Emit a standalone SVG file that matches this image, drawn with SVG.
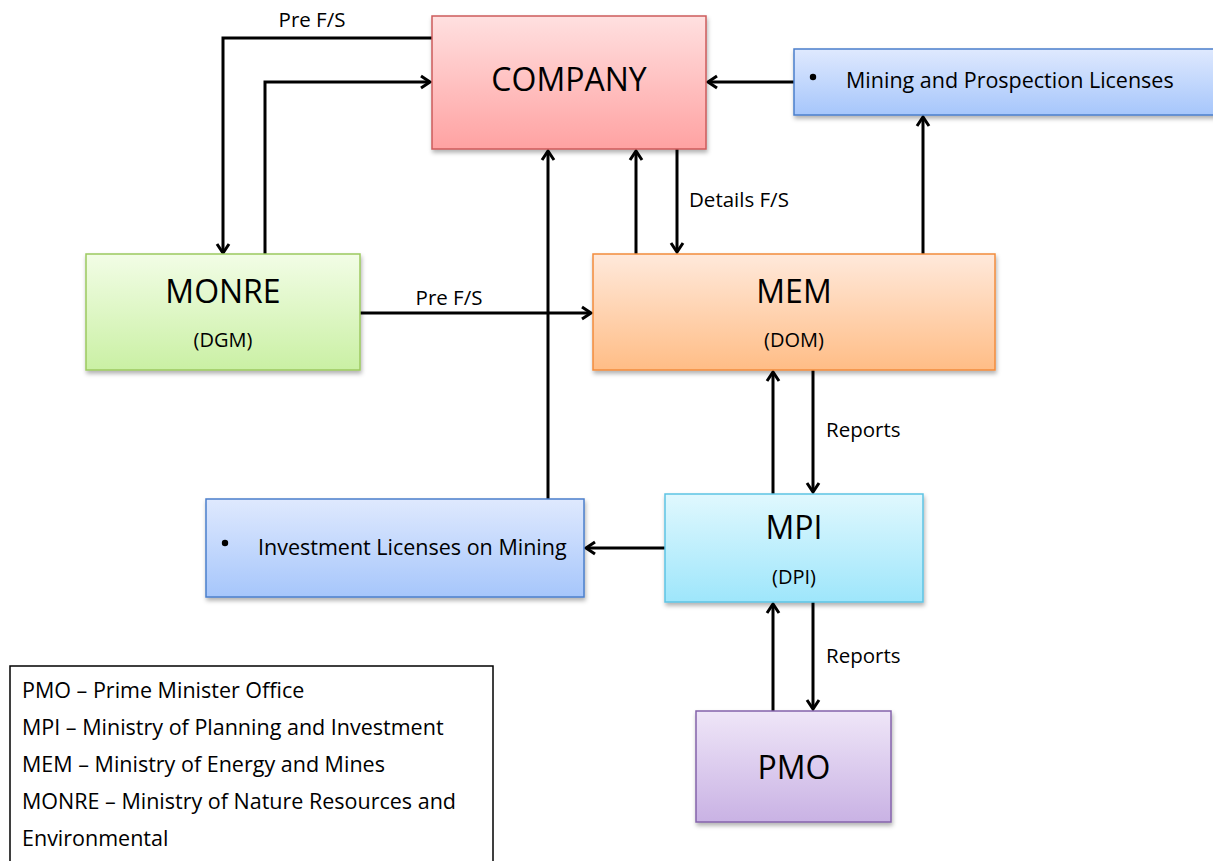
<svg xmlns="http://www.w3.org/2000/svg" width="1213" height="861" viewBox="0 0 1213 861">
<style>
.t{font-family:"Open Sans","Liberation Sans",sans-serif;fill:#000}
.big{font-size:32px}
.sub{font-size:20px}
.lbl{font-size:20.5px}
.leg{font-size:21.5px}
.c{stroke:#000;stroke-width:3;fill:none;marker-end:url(#ah)}
</style>
<defs>
<marker id="ah" markerUnits="userSpaceOnUse" markerWidth="16" markerHeight="16" refX="13" refY="8" orient="auto">
<path d="M4,2 L13,8 L4,14" fill="none" stroke="#000" stroke-width="3"/>
</marker>
<filter id="sh" x="-5%" y="-5%" width="115%" height="120%">
<feDropShadow dx="1" dy="3" stdDeviation="2" flood-color="#000" flood-opacity="0.3"/>
</filter>
<linearGradient id="gRed" x1="0" y1="0" x2="0" y2="1"><stop offset="0" stop-color="#ffe0e0"/><stop offset="1" stop-color="#ffa2a2"/></linearGradient>
<linearGradient id="gBlue" x1="0" y1="0" x2="0" y2="1"><stop offset="0" stop-color="#dfe9fe"/><stop offset="1" stop-color="#a6c6fb"/></linearGradient>
<linearGradient id="gGreen" x1="0" y1="0" x2="0" y2="1"><stop offset="0" stop-color="#f2fde6"/><stop offset="1" stop-color="#caf0a4"/></linearGradient>
<linearGradient id="gOrange" x1="0" y1="0" x2="0" y2="1"><stop offset="0" stop-color="#ffe9db"/><stop offset="1" stop-color="#ffbd86"/></linearGradient>
<linearGradient id="gCyan" x1="0" y1="0" x2="0" y2="1"><stop offset="0" stop-color="#e0f8fe"/><stop offset="1" stop-color="#9ee6fb"/></linearGradient>
<linearGradient id="gPurple" x1="0" y1="0" x2="0" y2="1"><stop offset="0" stop-color="#efe6f8"/><stop offset="1" stop-color="#c9b2e4"/></linearGradient>
</defs>
<rect width="1213" height="861" fill="#fff"/>

<g id="connectors">
<polyline class="c" points="432,38 223,38 223,253"/>
<polyline class="c" points="265,254 265,82 430,82"/>
<line class="c" x1="794" y1="82" x2="708" y2="82"/>
<line class="c" x1="923" y1="254" x2="923" y2="117"/>
<line class="c" x1="636" y1="254" x2="636" y2="151"/>
<line class="c" x1="677" y1="149" x2="677" y2="252"/>
<line class="c" x1="548" y1="499" x2="548" y2="151"/>
<line class="c" x1="360" y1="313" x2="591" y2="313"/>
<line class="c" x1="773" y1="494" x2="773" y2="372"/>
<line class="c" x1="813" y1="370" x2="813" y2="492"/>
<line class="c" x1="665" y1="548" x2="586" y2="548"/>
<line class="c" x1="773" y1="711" x2="773" y2="604"/>
<line class="c" x1="813" y1="602" x2="813" y2="709"/>
<text class="t lbl" x="312" y="27" text-anchor="middle">Pre F/S</text>
<text class="t lbl" x="689" y="207">Details F/S</text>
<text class="t lbl" x="449" y="305" text-anchor="middle">Pre F/S</text>
<text class="t lbl" x="826" y="437">Reports</text>
<text class="t lbl" x="826" y="663">Reports</text>
</g>

<g id="company">
<rect x="432" y="16" width="274" height="133" fill="url(#gRed)" stroke="#cd5b5b" stroke-width="1.5" filter="url(#sh)"/>
<text class="t big" x="569" y="91" text-anchor="middle">COMPANY</text>
</g>

<g id="mining-licenses">
<rect x="794" y="49" width="425" height="66" fill="url(#gBlue)" stroke="#4b7fcb" stroke-width="1.5" filter="url(#sh)"/>
<circle cx="813" cy="77" r="3.2" fill="#000"/>
<text class="t leg" x="846" y="88">Mining and Prospection Licenses</text>
</g>

<g id="monre">
<rect x="86" y="254" width="274" height="116" fill="url(#gGreen)" stroke="#9cc95f" stroke-width="1.5" filter="url(#sh)"/>
<text class="t big" x="223" y="303" text-anchor="middle">MONRE</text>
<text class="t sub" x="223" y="347" text-anchor="middle">(DGM)</text>
</g>

<g id="mem">
<rect x="593" y="254" width="402" height="116" fill="url(#gOrange)" stroke="#f28c3c" stroke-width="1.5" filter="url(#sh)"/>
<text class="t big" x="794" y="303" text-anchor="middle">MEM</text>
<text class="t sub" x="794" y="347" text-anchor="middle">(DOM)</text>
</g>

<g id="investment-licenses">
<rect x="206" y="499" width="378" height="98" fill="url(#gBlue)" stroke="#4b7fcb" stroke-width="1.5" filter="url(#sh)"/>
<circle cx="225" cy="543" r="3.2" fill="#000"/>
<text class="t leg" x="258" y="555">Investment Licenses on Mining</text>
</g>

<g id="mpi">
<rect x="665" y="494" width="258" height="108" fill="url(#gCyan)" stroke="#5ec3e3" stroke-width="1.5" filter="url(#sh)"/>
<text class="t big" x="794" y="539" text-anchor="middle">MPI</text>
<text class="t sub" x="794" y="584" text-anchor="middle">(DPI)</text>
</g>

<g id="pmo">
<rect x="696" y="711" width="195" height="111" fill="url(#gPurple)" stroke="#8463ab" stroke-width="1.5" filter="url(#sh)"/>
<text class="t big" x="794" y="779" text-anchor="middle">PMO</text>
</g>

<g id="legend">
<rect x="10" y="666" width="483" height="200" fill="#fff" stroke="#000" stroke-width="1.5"/>
<text class="t leg" x="22" y="698">PMO – Prime Minister Office</text>
<text class="t leg" x="22" y="735">MPI – Ministry of Planning and Investment</text>
<text class="t leg" x="22" y="772">MEM – Ministry of Energy and Mines</text>
<text class="t leg" x="22" y="809">MONRE – Ministry of Nature Resources and</text>
<text class="t leg" x="22" y="846">Environmental</text>
</g>
</svg>
